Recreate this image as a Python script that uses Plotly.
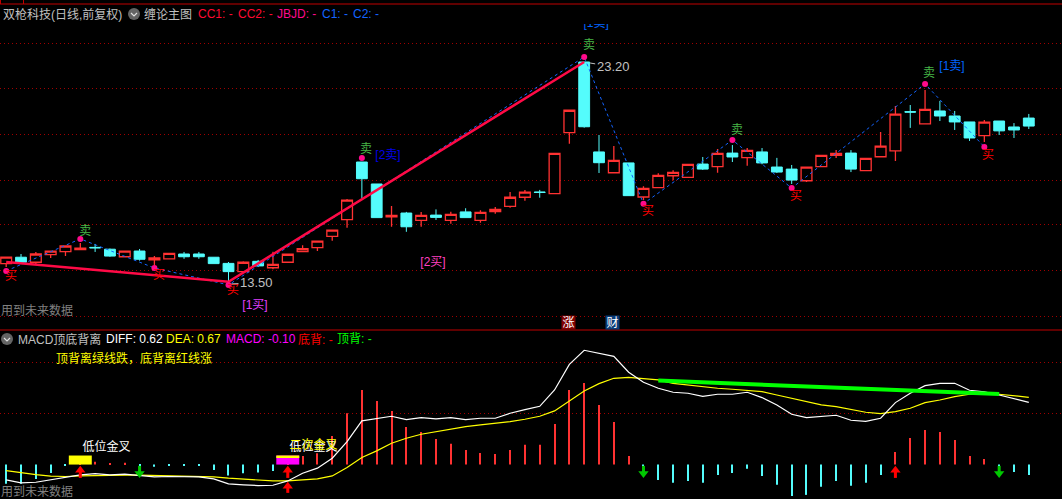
import plotly.graph_objects as go

# candles, one per trading day
opens = [14.39,14.67,14.45,14.78,14.91,15.00,15.10,15.02,14.69,14.94,14.56,14.60,14.81,14.81,14.67,14.40,14.04,14.49,14.21,14.45,
         14.91,15.09,15.58,16.31,18.83,17.87,16.43,16.60,16.28,16.51,16.28,16.65,16.28,16.66,16.89,17.29,17.52,17.45,20.11,23.20,
         19.27,18.36,18.79,17.30,17.71,18.23,18.16,18.74,18.63,19.22,19.02,19.27,18.61,18.52,18.01,18.63,19.12,19.22,18.45,19.06,
         19.32,21.03,20.50,21.06,20.84,20.58,19.98,20.62,20.36,20.75]
highs = [14.67,14.81,14.90,14.96,15.18,15.29,15.25,15.05,14.96,15.03,14.72,14.84,14.90,14.90,14.67,14.46,14.49,14.55,14.91,14.80,
         15.19,15.37,15.85,17.21,18.83,17.87,16.91,16.65,16.65,16.76,16.66,16.81,16.72,16.86,17.52,17.61,17.61,19.21,21.09,23.20,
         20.01,19.53,18.79,17.77,18.34,18.47,18.73,19.05,19.40,19.57,19.44,19.44,19.01,18.70,18.61,19.12,19.35,19.35,18.99,20.14,
         21.28,21.32,21.98,21.50,21.06,20.58,20.67,20.62,20.53,20.93]
lows = [14.24,14.42,14.37,14.64,14.72,15.00,14.90,14.69,14.68,14.52,14.33,14.60,14.60,14.60,14.39,13.50,13.98,14.24,14.14,14.45,
        14.91,14.94,15.39,15.96,17.24,16.40,16.00,15.78,16.00,16.30,16.13,16.40,16.18,16.57,16.83,17.14,17.27,17.45,19.63,20.33,
        18.35,18.36,17.36,17.17,17.71,18.03,18.16,18.48,18.36,18.83,18.67,18.73,18.35,17.87,17.96,18.63,19.01,18.39,18.45,19.06,
        18.87,20.32,20.50,20.62,20.23,19.75,19.70,20.01,19.88,20.27]
closes = [14.67,14.45,14.81,14.94,15.16,15.07,15.08,14.72,14.94,14.58,14.64,14.84,14.69,14.69,14.39,14.04,14.45,14.29,14.36,14.80,
          15.04,15.37,15.85,17.16,18.10,16.40,16.50,16.00,16.50,16.41,16.54,16.40,16.63,16.76,17.29,17.51,17.50,19.21,21.09,20.37,
          18.80,18.90,17.36,17.68,18.25,18.38,18.73,18.52,19.21,19.05,19.34,18.79,18.39,18.04,18.61,19.12,19.21,18.52,18.99,19.52,
          20.92,21.01,21.13,20.84,20.58,19.88,20.57,20.19,20.23,20.40]
days = list(range(len(opens)))

# chan lines
stroke_days = [0, 15, 39]
stroke_vals = [14.46, 13.60, 23.20]
zig_days = [0, 5, 10, 15, 39, 43, 49, 53, 62, 66]
zig_vals = [14.07, 15.47, 14.20, 13.46, 23.42, 17.01, 19.79, 17.69, 22.24, 19.49]
dot_days = [0, 5, 10, 15, 24, 39, 43, 49, 53, 62, 66]
dot_vals = [14.07, 15.47, 14.20, 13.46, 19.01, 23.42, 17.01, 19.79, 17.69, 22.24, 19.49]

# buy / sell signs
buy_x = [0.32, 10.31, 15.31, 43.31, 53.3, 66.25]
buy_y = [13.80, 13.85, 13.19, 16.65, 17.30, 19.09]
sell_x = [5.33, 24.28, 39.33, 49.31, 62.27]
sell_y = [15.77, 19.35, 23.90, 20.18, 22.68]

# macd panel
macd = [-.192,-.192,-.143,-.083,-.013,.01,.027,.007,.017,-.005,-.023,-.005,-.007,-.013,-.053,-.109,-.086,-.080,-.063,.01,
        .086,.113,.285,.511,.743,.634,.534,.375,.325,.255,.206,.146,.116,.106,.146,.196,.196,.405,.743,.813,
        .594,.425,.086,-.03,-.153,-.182,-.163,-.182,-.103,-.083,-.043,-.113,-.202,-.312,-.302,-.222,-.163,-.212,-.182,-.103,
        .126,.265,.345,.325,.245,.086,.056,-.03,-.073,-.103]
diff = [-.153,-.182,-.176,-.153,-.123,-.103,-.090,-.103,-.096,-.109,-.123,-.119,-.119,-.123,-.143,-.192,-.202,-.209,-.206,-.163,
        -.086,-.036,.063,.229,.435,.458,.481,.448,.468,.454,.468,.448,.461,.461,.511,.547,.580,.743,.998,1.138,
        1.108,1.078,.919,.819,.760,.720,.710,.680,.700,.700,.720,.667,.594,.501,.468,.481,.491,.441,.431,.461,
        .617,.710,.786,.809,.809,.740,.723,.693,.653,.620]
dea = [-.060,-.083,-.100,-.116,-.119,-.113,-.109,-.106,-.106,-.106,-.109,-.116,-.119,-.119,-.123,-.136,-.146,-.156,-.163,-.163,
       -.153,-.143,-.113,-.030,.070,.136,.212,.262,.302,.328,.358,.378,.395,.408,.428,.451,.481,.534,.634,.733,
       .806,.859,.869,.859,.843,.809,.793,.773,.760,.750,.740,.726,.693,.660,.620,.594,.577,.551,.521,.507,
       .527,.561,.617,.643,.677,.700,.710,.700,.687,.670]
div_days = [44, 67]
div_vals = [.836, .703]

up_days = [5, 19, 60]
up_tip = [-.056, -.056, -.056]
down_days = [9, 43, 67]

RED = "#FF3232"
CYAN = "#54FCFC"
GRID = "#A00000"
GREY = "#C0C0C0"
FONT = "Liberation Sans, Noto Sans CJK SC"


def px(x):
    return x / 1062


def py(y):
    return 1 - y / 499


fig = go.Figure()

fig.add_trace(go.Candlestick(
    x=days, open=opens, high=highs, low=lows, close=closes, whiskerwidth=0,
    increasing=dict(line=dict(color=RED, width=1.3), fillcolor="#000000"),
    decreasing=dict(line=dict(color=CYAN, width=1), fillcolor=CYAN),
))
fig.add_trace(go.Scatter(x=zig_days, y=zig_vals, mode="lines",
                         line=dict(color="#1464FF", width=1, dash="3px,3px")))
fig.add_trace(go.Scatter(x=stroke_days, y=stroke_vals, mode="lines",
                         line=dict(color="#FF0A46", width=2.5)))
fig.add_trace(go.Scatter(x=dot_days, y=dot_vals, mode="markers",
                         marker=dict(color="#FF0A8C", size=6)))

fig.add_trace(go.Scatter(x=buy_x, y=buy_y, mode="text", text=["买"] * len(buy_x),
                         textfont=dict(color="#FF0000", size=12, family=FONT)))
fig.add_trace(go.Scatter(x=sell_x, y=sell_y, mode="text", text=["卖"] * len(sell_x),
                         textfont=dict(color="#46B446", size=12, family=FONT)))
fig.add_trace(go.Scatter(x=[25.76], y=[19.09], mode="text", text=["[2卖]"],
                         textfont=dict(color="#0000E6", size=12, family=FONT)))
fig.add_trace(go.Scatter(x=[39.8, 63.82], y=[24.85, 22.98], mode="text", text=["[1卖]", "[1卖]"],
                         textfont=dict(color="#0064FF", size=12, family=FONT)))
fig.add_trace(go.Scatter(x=[28.8], y=[14.42], mode="text", text=["[2买]"],
                         textfont=dict(color="#FF40C0", size=12, family=FONT)))
fig.add_trace(go.Scatter(x=[16.79], y=[12.54], mode="text", text=["[1买]"],
                         textfont=dict(color="#E040FF", size=12, family=FONT)))

# macd histogram
bar_colors = [RED if v > 0 else CYAN for v in macd]
fig.add_trace(go.Bar(x=days, y=macd, width=0.07, marker=dict(color=bar_colors, line=dict(width=0)),
                     xaxis="x2", yaxis="y2"))
# low cross blocks
fig.add_trace(go.Bar(x=[5, 19], y=[.09, .09], width=1.55, marker=dict(color=["#FFFF00", "#FF00FF"], line=dict(width=0)),
                     xaxis="x2", yaxis="y2"))
fig.add_trace(go.Bar(x=[19], y=[.016], base=[.074], width=1.55, marker=dict(color="#FFFF00", line=dict(width=0)),
                     xaxis="x2", yaxis="y2"))

fig.add_trace(go.Scatter(x=days, y=dea, mode="lines", line=dict(color="#FFFF00", width=1.2), xaxis="x2", yaxis="y2"))
fig.add_trace(go.Scatter(x=days, y=diff, mode="lines", line=dict(color="#FFFFFF", width=1.2), xaxis="x2", yaxis="y2"))
fig.add_trace(go.Scatter(x=div_days, y=div_vals, mode="lines", line=dict(color="#00FF00", width=4), xaxis="x2", yaxis="y2"))

# signal arrows
stem_up_x, stem_up_y = [], []
for d in up_days:
    stem_up_x += [d, d, None]
    stem_up_y += [-.063, -.133, None]
stem_up_x += [19, 19, None]
stem_up_y += [-.222, -.282, None]
fig.add_trace(go.Scatter(x=stem_up_x, y=stem_up_y, mode="lines", line=dict(color="#FF0000", width=3),
                         xaxis="x2", yaxis="y2"))
fig.add_trace(go.Scatter(x=up_days + [19], y=up_tip + [-.215], mode="markers",
                         marker=dict(symbol="triangle-up", color="#FF0000", size=9, line=dict(width=0)),
                         xaxis="x2", yaxis="y2"))
stem_dn_x, stem_dn_y = [], []
for d in down_days:
    stem_dn_x += [d, d, None]
    stem_dn_y += [-.013, -.083, None]
fig.add_trace(go.Scatter(x=stem_dn_x, y=stem_dn_y, mode="lines", line=dict(color="#00C800", width=3),
                         xaxis="x2", yaxis="y2"))
fig.add_trace(go.Scatter(x=down_days, y=[-.09] * 3, mode="markers",
                         marker=dict(symbol="triangle-down", color="#00C800", size=9, line=dict(width=0)),
                         xaxis="x2", yaxis="y2"))
fig.add_trace(go.Scatter(x=[6.77, 20.73], y=[.166, .166], mode="text", text=["低位金叉", "低位金叉"],
                         textfont=dict(color="#FFFFFF", size=12, family=FONT), xaxis="x2", yaxis="y2"))
fig.add_trace(go.Scatter(x=[20.73], y=[.186], mode="text", text=["二次金叉"],
                         textfont=dict(color="#FFFF00", size=12, family=FONT), xaxis="x2", yaxis="y2"))

fig.update_layout(
    width=1062,
    height=499,
    margin=dict(l=0, r=0, t=0, b=0),
    paper_bgcolor="#000000",
    plot_bgcolor="#000000",
    showlegend=False,
    hovermode=False,
    boxgap=0.27,
    boxgroupgap=0,
    barmode="overlay",
    xaxis=dict(domain=[0, 1], range=[-0.418, 71.24], showgrid=False, zeroline=False, showticklabels=False,
               ticks="", rangeslider=dict(visible=False), anchor="y"),
    yaxis=dict(domain=[py(330), py(13)], range=[11.49, 25.34], tickvals=[23.99, 22.02, 20.05, 18.04, 16.08, 14.11, 12.10],
               showticklabels=False, ticks="", zeroline=False, showgrid=True, gridcolor=GRID, griddash="1px,3px", gridwidth=1),
    xaxis2=dict(domain=[0, 1], range=[-0.418, 71.24], showgrid=False, zeroline=False, showticklabels=False,
                ticks="", anchor="y2"),
    yaxis2=dict(domain=[0, py(331)], range=[-.343, 1.330], tickvals=[1.012, .504], showticklabels=False, ticks="",
                zeroline=False, showgrid=True, gridcolor=GRID, griddash="1px,3px", gridwidth=1),
)


def note(x, y, text, color, size=12):
    fig.add_annotation(xref="paper", yref="paper", x=px(x), y=py(y), text=text, showarrow=False,
                       xanchor="left", yanchor="middle", borderpad=0, borderwidth=0,
                       font=dict(color=color, size=size, family=FONT))


# top header
note(3, 14, "双枪科技(日线,前复权)", GREY)
note(144, 14, "缠论主图", GREY)
note(198, 14, "CC1: -", "#FF0A32")
note(238, 14, "CC2: -", "#FF0A32")
note(277, 14, "JBJD: -", "#FF0A8C")
note(322, 14, "C1: -", "#1464FF")
note(353, 14, "C2: -", "#1464FF")
note(1, 310, "用到未来数据", "#808080")

# macd header
note(18, 339, "MACD顶底背离", GREY)
note(106, 339, "DIFF: 0.62", "#FFFFFF")
note(166, 339, "DEA: 0.67", "#FFFF00")
note(226, 339, "MACD: -0.10", "#FF00FF")
note(298, 339, "底背: -", "#FF0000")
note(337, 339, "顶背: -", "#00FF00")
note(56, 358, "顶背离绿线跌，底背离红线涨", "#FFFF00")
note(1, 491, "用到未来数据", "#808080")

# price tags
fig.add_annotation(x=15, y=13.50, xref="x", yref="y", text="13.50", ax=28, ay=-1, axref="pixel", ayref="pixel",
                   arrowhead=0, arrowcolor=GREY, arrowwidth=1, standoff=3,
                   font=dict(color=GREY, size=13, family=FONT))
fig.add_annotation(x=39, y=23.20, xref="x", yref="y", text="23.20", ax=29, ay=5, axref="pixel", ayref="pixel",
                   arrowhead=0, arrowcolor=GREY, arrowwidth=1, standoff=6,
                   font=dict(color=GREY, size=13, family=FONT))

# 涨 / 财 tabs
fig.add_annotation(xref="paper", yref="paper", x=px(568.5), y=py(322.5), text="涨", showarrow=False, width=13, height=13,
                   bgcolor="#800000", borderpad=0, font=dict(color="#FFFFFF", size=12, family=FONT))
fig.add_annotation(xref="paper", yref="paper", x=px(612.5), y=py(322.5), text="财", showarrow=False, width=13, height=13,
                   bgcolor="#0A3C78", borderpad=0, font=dict(color="#FFFFFF", size=12, family=FONT))

# frame lines and the collapse icons
for y0 in [4, 330]:
    fig.add_shape(type="line", xref="paper", yref="paper", x0=0, x1=1, y0=py(y0), y1=py(y0),
                  line=dict(color="#C00000", width=1.2))
for x0 in [0.5, 23.5]:
    fig.add_shape(type="line", xref="paper", yref="paper", x0=px(x0), x1=px(x0), y0=py(0), y1=py(4),
                  line=dict(color="#C00000", width=1))
# top of the clipped [1卖] label
fig.add_shape(type="rect", xref="paper", yref="paper", x0=px(575), x1=px(620), y0=py(14), y1=py(24),
              fillcolor="#000000", line=dict(width=0), layer="above")
for cx, cy in [(134, 14), (7, 339)]:
    fig.add_shape(type="circle", xref="paper", yref="paper", x0=px(cx - 6), x1=px(cx + 6), y0=py(cy + 6), y1=py(cy - 6),
                  fillcolor="#646464", line=dict(width=0))
    fig.add_shape(type="path", xref="paper", yref="paper",
                  path=f"M {px(cx - 3)} {py(cy - 1)} L {px(cx)} {py(cy + 2)} L {px(cx + 3)} {py(cy - 1)}",
                  line=dict(color="#E0E0E0", width=1.2))

fig.write_html("out.html", config=dict(displayModeBar=False),
               post_script="document.body.style.margin='0';document.body.style.overflow='hidden';")
